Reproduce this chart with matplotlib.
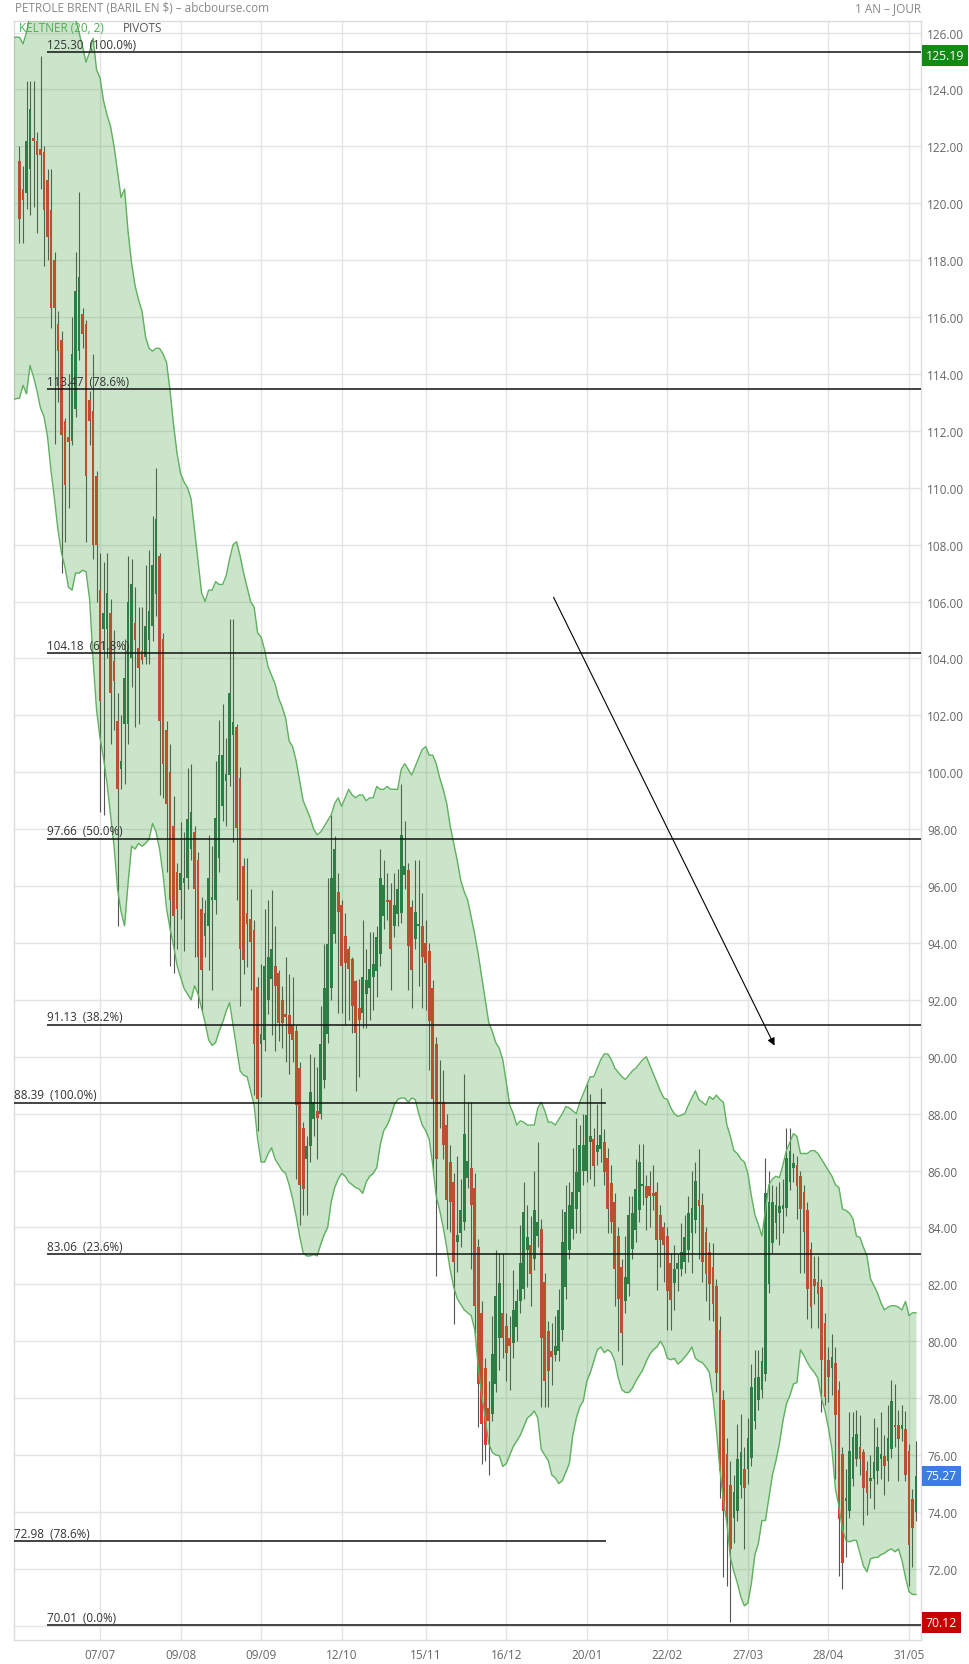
import numpy as np
import pandas as pd
import matplotlib
matplotlib.use('Agg')
import matplotlib.pyplot as plt

plt.rcParams['font.family'] = ['Open Sans', 'DejaVu Sans']

# ---------------- data ----------------
title = "PETROLE BRENT (BARIL EN $) \u2013 abcbourse.com"
period = "1 AN \u2013 JOUR"
holidays = ['2022-12-26', '2023-01-02', '2023-04-07']
tick_dates = ['2022-07-07', '2022-08-09', '2022-09-09', '2022-10-12', '2022-11-15',
              '2022-12-16', '2023-01-20', '2023-02-22', '2023-03-27', '2023-04-28',
              '2023-05-31']

opens = [
 121.5, 120.5, 120.35, 121.2, 122.3, 122.2, 121.9, 121.8, 120.8, 119.75,
 118.0, 115.75, 115.2, 112.35, 111.8, 111.65, 112.75, 114.8, 116.1, 115.75,
 113.1, 112.7, 110.4, 106.4, 105.05, 105.05, 105.6, 103.9, 101.8, 100.1,
 101.7, 101.7, 104.0, 105.25, 104.35, 104.25, 104.05, 104.65, 105.15, 106.25,
 107.6, 104.7, 101.5, 100.0, 98.1, 96.5, 95.85, 96.1, 96.3, 97.3,
 97.9, 96.9, 95.2, 94.25, 94.6, 95.5, 95.5, 97.0, 98.8, 99.7,
 99.9, 101.3, 101.6, 99.8, 96.7, 95.05, 94.85, 94.45, 92.45, 90.45,
 90.6, 92.0, 92.75, 93.2, 92.95, 92.0, 91.5, 91.45, 91.1, 90.9,
 89.6, 87.5, 86.4, 86.85, 87.8, 88.1, 88.0, 89.2, 90.8, 92.4,
 94.3, 95.8, 95.35, 94.25, 93.8, 93.45, 92.65, 91.7, 91.55, 92.2,
 92.4, 92.8, 93.0, 93.6, 94.95, 95.5, 95.5, 94.6, 95.0, 95.05,
 96.4, 96.55, 95.25, 94.15, 94.6, 94.6, 94.0, 93.7, 92.4, 90.45,
 88.4, 88.4, 87.6, 86.3, 85.6, 83.5, 83.8, 84.2, 85.75, 86.1,
 85.4, 83.3, 81.0, 79.05, 77.65, 77.45, 78.5, 80.1, 81.0, 80.55,
 80.1, 79.95, 80.5, 81.4, 81.85, 83.2, 83.4, 82.9, 83.7, 83.95,
 82.1, 80.35, 79.65, 79.5, 79.65, 80.4, 81.9, 83.2, 83.95, 84.65,
 85.25, 86.0, 86.0, 87.0, 87.1, 86.65, 86.75, 87.0, 86.45, 85.55,
 84.9, 83.7, 82.6, 81.4, 82.0, 83.25, 83.9, 84.6, 85.45, 85.45,
 85.45, 85.2, 85.25, 84.45, 84.0, 83.7, 82.75, 82.05, 82.55, 82.55,
 82.8, 83.2, 83.8, 84.25, 84.95, 84.8, 83.85, 83.15, 82.6, 81.95,
 80.4, 77.95, 76.05, 74.95, 73.8, 74.05, 74.95, 75.5, 75.5, 75.9,
 77.2, 77.95, 78.3, 78.85, 82.0, 83.45, 84.15, 84.5, 84.65, 84.7,
 85.6, 86.1, 86.2, 85.8, 85.25, 84.6, 83.25, 82.2, 82.1, 81.9,
 80.65, 79.35, 79.05, 79.25, 78.3, 76.05, 74.4, 74.05, 75.15, 75.85,
 76.3, 76.1, 75.45, 75.1, 75.15, 75.45, 75.85, 75.95, 75.8, 76.2,
 77.05, 77.05, 76.9, 76.9, 76.15, 74.45, 74.0]

highs = [
 122.0, 121.3, 124.3, 124.3, 124.3, 122.5, 125.19, 122.0, 121.2, 121.2,
 118.3, 116.2, 115.5, 112.45, 114.0, 116.0, 118.3, 120.4, 116.3, 115.9,
 113.4, 114.7, 110.6, 107.7, 107.4, 107.7, 106.1, 105.0, 102.8, 102.0,
 104.7, 107.6, 107.5, 106.5, 105.8, 105.8, 107.3, 107.8, 109.0, 110.7,
 107.7, 104.9, 101.8, 101.0, 99.15, 96.8, 98.25, 97.9, 100.15, 100.3,
 98.1, 97.2, 95.6, 95.5, 97.8, 97.4, 100.4, 101.85, 102.4, 101.2,
 105.4, 105.4, 101.7, 100.2, 97.0, 97.0, 95.9, 94.8, 92.8, 93.25,
 95.2, 95.5, 95.85, 94.6, 93.05, 92.5, 93.5, 92.9, 92.8, 91.1,
 89.8, 87.7, 87.2, 90.1, 90.0, 89.65, 91.8, 93.95, 96.3, 98.5,
 97.75, 96.45, 95.5, 95.05, 93.9, 93.5, 92.7, 92.75, 94.8, 93.8,
 94.4, 94.4, 94.6, 97.3, 96.9, 96.45, 96.1, 96.45, 96.6, 99.6,
 98.3, 96.8, 95.5, 96.9, 96.9, 95.75, 94.8, 94.0, 92.7, 90.7,
 89.9, 89.55, 88.0, 86.9, 85.9, 86.5, 85.7, 89.4, 88.4, 88.4,
 85.9, 83.6, 81.4, 79.4, 78.6, 80.9, 83.2, 83.1, 83.1, 81.0,
 80.9, 82.5, 81.85, 84.1, 85.6, 84.8, 84.4, 86.0, 87.0, 84.3,
 82.4, 80.7, 80.65, 80.9, 81.85, 84.65, 85.5, 85.6, 86.8, 87.85,
 87.6, 88.0, 89.1, 88.7, 87.5, 88.35, 88.9, 87.45, 86.8, 86.2,
 85.2, 84.0, 82.9, 83.7, 85.1, 85.1, 86.4, 86.95, 86.95, 85.85,
 86.0, 86.2, 85.6, 84.8, 84.2, 84.0, 83.1, 83.4, 83.05, 84.15,
 84.45, 85.1, 85.97, 86.3, 86.75, 85.2, 84.0, 83.5, 83.45, 82.2,
 80.9, 78.3, 76.6, 75.8, 75.3, 77.1, 77.45, 76.3, 77.3, 79.2,
 79.7, 79.7, 79.8, 86.45, 86.0, 85.5, 85.45, 85.6, 85.7, 87.5,
 87.5, 86.6, 86.5, 86.0, 85.5, 84.9, 83.5, 83.0, 83.0, 82.2,
 81.0, 79.8, 80.25, 79.8, 78.6, 76.3, 75.5, 77.5, 77.5, 77.6,
 77.4, 76.2, 75.8, 76.0, 77.3, 77.0, 77.5, 76.7, 77.75, 78.65,
 78.5, 77.6, 77.75, 77.55, 76.4, 74.8, 76.5]

lows = [
 118.6, 118.6, 119.8, 119.6, 119.85, 118.95, 120.5, 117.8, 118.0, 115.6,
 111.55, 113.0, 107.0, 108.1, 109.3, 111.5, 112.5, 114.5, 114.9, 108.1,
 111.5, 107.5, 106.0, 98.6, 98.5, 104.0, 101.0, 101.5, 94.6, 99.4,
 99.6, 101.0, 103.0, 101.6, 101.7, 103.8, 103.8, 103.8, 104.6, 105.5,
 99.2, 99.1, 96.5, 93.2, 92.95, 93.8, 94.85, 93.7, 95.9, 96.9,
 93.5, 91.7, 91.6, 93.5, 93.05, 92.35, 95.0, 96.5, 98.3, 98.1,
 99.5, 97.55, 95.5, 91.8, 92.9, 93.15, 92.35, 88.65, 87.4, 88.6,
 90.2, 91.5, 90.75, 90.2, 90.55, 90.3, 89.8, 89.4, 89.8, 85.7,
 84.1, 84.45, 84.45, 86.3, 87.2, 86.4, 87.8, 88.9, 90.5, 92.0,
 94.0, 91.55, 91.55, 91.1, 91.3, 90.85, 88.8, 89.3, 91.0, 91.0,
 91.3, 91.65, 92.1, 93.2, 94.5, 94.8, 92.35, 94.2, 94.6, 94.7,
 95.9, 92.35, 91.7, 93.8, 92.5, 91.7, 91.65, 89.55, 85.9, 82.3,
 87.5, 86.4, 83.95, 83.85, 80.6, 82.45, 83.3, 83.9, 85.4, 82.55,
 80.3, 77.0, 75.7, 75.8, 75.3, 77.2, 78.2, 79.0, 79.4, 78.6,
 78.3, 79.4, 80.0, 81.0, 81.5, 81.9, 81.25, 82.5, 83.3, 77.7,
 77.7, 77.7, 78.45, 79.3, 79.3, 80.0, 81.5, 82.9, 83.6, 83.8,
 83.8, 85.5, 85.6, 85.7, 85.45, 86.2, 86.3, 85.5, 83.8, 83.8,
 81.25, 79.65, 79.15, 81.0, 81.6, 82.9, 83.5, 84.2, 84.8, 83.9,
 84.0, 84.6, 81.8, 82.6, 82.1, 80.4, 80.4, 81.1, 81.75, 82.3,
 82.4, 82.8, 82.4, 83.8, 82.9, 82.1, 81.4, 80.75, 80.7, 78.2,
 74.5, 71.7, 71.4, 70.12, 72.9, 73.7, 74.5, 72.7, 75.0, 75.6,
 76.9, 77.6, 78.0, 78.6, 81.7, 83.1, 83.6, 83.4, 83.8, 84.4,
 85.3, 85.6, 84.3, 82.4, 82.4, 80.8, 80.45, 81.3, 80.45, 77.5,
 77.75, 77.85, 78.1, 75.15, 71.75, 71.3, 72.4, 73.8, 74.9, 75.6,
 75.3, 73.55, 73.9, 74.5, 74.1, 75.0, 75.15, 74.6, 75.1, 75.9,
 76.3, 75.1, 76.5, 75.1, 71.4, 72.05, 73.7]

closes = [
 119.45, 120.1, 122.2, 123.3, 122.2, 121.7, 121.7, 119.75, 118.8, 116.3,
 116.3, 114.8, 111.85, 110.1, 111.6, 114.7, 116.9, 117.4, 115.4, 110.4,
 112.35, 108.0, 108.0, 102.5, 105.6, 106.3, 102.8, 103.2, 99.4, 100.4,
 103.3, 106.0, 106.6, 104.65, 103.65, 103.95, 105.15, 105.65, 107.3, 108.9,
 101.8, 100.3, 98.9, 95.5, 94.95, 95.2, 96.45, 96.3, 98.35, 98.6,
 95.9, 93.5, 93.05, 95.05, 96.3, 95.6, 98.4, 100.6, 100.6, 99.95,
 102.8, 101.75, 98.05, 93.8, 93.4, 94.65, 94.05, 90.45, 88.5, 90.8,
 93.2, 93.5, 93.8, 92.5, 91.2, 91.2, 91.4, 90.8, 90.6, 88.3,
 85.5, 85.35, 86.85, 88.75, 88.4, 87.85, 90.45, 92.4, 93.95, 96.3,
 97.3, 95.1, 93.2, 93.3, 93.1, 91.8, 90.85, 91.3, 92.8, 92.7,
 93.1, 93.25, 94.2, 96.3, 96.05, 95.45, 93.8, 95.35, 95.9, 97.8,
 96.7, 93.9, 93.05, 95.1, 94.6, 93.5, 93.3, 91.25, 88.5, 86.4,
 88.35, 86.9, 84.95, 84.9, 82.8, 83.75, 84.6, 87.3, 86.35, 84.8,
 81.25, 78.5, 77.1, 76.35, 77.2, 79.55, 81.6, 82.05, 80.1, 79.6,
 79.85, 81.1, 81.4, 82.75, 84.55, 83.65, 82.35, 84.6, 84.2, 80.1,
 78.6, 78.95, 79.45, 79.85, 81.1, 83.5, 84.55, 84.8, 85.25, 85.95,
 86.9, 86.9, 87.95, 87.2, 86.15, 86.9, 87.25, 85.95, 84.65, 84.2,
 82.55, 81.5, 80.3, 82.25, 84.45, 84.5, 85.35, 86.3, 85.5, 85.05,
 85.1, 85.1, 83.55, 83.55, 83.4, 81.75, 81.45, 82.55, 82.75, 83.15,
 83.65, 84.5, 84.7, 85.65, 84.75, 82.8, 82.35, 82.0, 81.3, 78.9,
 75.45, 74.05, 73.75, 72.7, 74.7, 75.85, 76.1, 74.85, 76.6, 78.4,
 78.7, 78.75, 79.3, 85.2, 84.9, 84.9, 84.8, 84.75, 84.8, 86.45,
 86.7, 86.25, 85.45, 84.65, 83.85, 81.85, 81.2, 81.95, 81.65, 79.35,
 78.05, 78.75, 79.45, 77.4, 73.75, 72.2, 74.5, 76.15, 76.65, 76.75,
 75.85, 74.85, 74.65, 75.2, 75.75, 76.3, 76.05, 75.6, 76.6, 77.9,
 77.0, 76.55, 77.05, 75.3, 72.85, 73.45, 75.27]

# Keltner (20, 2) channel (starts two sessions before first candle)
keltner_upper = [
 125.8, 125.84,
 125.83, 125.6, 126.0, 126.6, 127.0, 127.2, 127.4, 127.5, 127.6, 127.6,
 127.5, 127.4, 127.3, 127.2, 127.0, 126.8, 126.5, 126.0, 125.5, 124.96,
 125.3, 125.8, 124.7, 124.4, 123.6, 123.1, 122.7, 122.0, 121.1, 120.2,
 120.5, 119.0, 117.9, 117.1, 116.6, 116.2, 115.3, 114.9, 114.8, 114.9,
 114.9, 114.7, 114.4, 113.4, 112.2, 111.2, 110.5, 110.2, 110.0, 109.6,
 108.5, 107.4, 106.3, 106.0, 106.4, 106.4, 106.7, 106.6, 106.6, 106.9,
 107.5, 108.0, 108.1, 107.6, 107.0, 106.5, 106.0, 105.8, 104.9, 104.75,
 104.3, 103.7, 103.4, 103.1, 102.6, 102.3, 101.9, 101.1, 100.9, 100.4,
 99.7, 99.0, 98.7, 98.4, 98.0, 97.8, 97.9, 98.1, 98.3, 98.5,
 98.9, 99.1, 98.8, 99.1, 99.4, 99.2, 99.1, 99.2, 99.2, 99.0,
 99.1, 99.1, 99.5, 99.4, 99.4, 99.5, 99.4, 99.4, 99.4, 100.1,
 100.3, 100.1, 99.9, 100.2, 100.5, 100.8, 100.9, 100.6, 100.6, 100.3,
 99.8, 99.4, 98.9, 98.1, 97.5, 96.9, 96.2, 95.8, 95.5, 94.9,
 94.3, 93.6, 92.8, 92.0, 91.2, 90.9, 90.5, 90.3, 89.9, 89.1,
 88.3, 88.0, 87.6, 87.75, 87.7, 87.6, 87.6, 87.6, 88.2, 88.4,
 88.1, 87.7, 87.7, 87.6, 87.8, 88.0, 88.25, 88.2, 88.1, 88.0,
 88.4, 88.7, 89.0, 89.3, 89.3, 89.6, 89.9, 90.1, 90.1, 89.9,
 89.6, 89.45, 89.3, 89.2, 89.35, 89.5, 89.6, 89.75, 89.9, 90.0,
 89.7, 89.4, 89.1, 88.8, 88.55, 88.5, 88.2, 88.0, 87.9, 87.95,
 88.0, 88.3, 88.55, 88.8, 88.5, 88.4, 88.3, 88.6, 88.5, 88.65,
 88.5, 88.4, 87.6, 87.2, 86.7, 86.6, 86.4, 86.3, 85.9, 85.1,
 84.45, 84.1, 83.7, 84.6, 85.5, 85.7, 85.8, 85.75, 86.2, 86.7,
 87.0, 87.3, 87.2, 86.6, 86.6, 86.6, 86.7, 86.7, 86.6, 86.4,
 86.2, 86.0, 85.8, 85.5, 85.4, 84.65, 84.6, 84.5, 84.3, 83.7,
 83.65, 83.3, 83.0, 82.2, 81.95, 81.7, 81.35, 81.1, 81.2, 81.25,
 81.25, 81.2, 81.1, 81.4, 80.9, 81.0, 81.0]

keltner_lower = [
 113.1, 113.13,
 113.15, 113.6, 113.3, 114.3, 113.9, 113.4, 112.8, 112.5, 111.8, 110.6,
 109.6, 108.5, 107.7, 107.2, 106.5, 106.4, 107.0, 107.0, 107.1, 107.05,
 106.1, 104.0, 102.2, 101.2, 100.5, 99.6, 98.5, 97.4, 95.9, 95.1,
 94.6, 96.1, 97.4, 97.3, 97.5, 97.4, 97.5, 97.65, 98.2, 97.9,
 97.3, 96.4, 95.2, 94.5, 93.9, 93.2, 92.8, 92.4, 92.2, 92.0,
 92.5, 92.2, 91.7, 91.2, 90.6, 90.4, 90.5, 90.9, 91.2, 91.6,
 91.9, 91.1, 90.3, 89.5, 89.35, 89.3, 88.8, 88.3, 87.1, 86.3,
 86.3, 86.6, 86.8, 86.4, 86.2, 86.0, 85.9, 85.5, 85.0, 84.4,
 83.7, 83.1, 83.0, 83.0, 83.05, 83.0, 83.4, 83.75, 84.0, 84.9,
 85.4, 85.7, 85.9, 85.8, 85.6, 85.5, 85.4, 85.35, 85.2, 85.6,
 85.8, 85.9, 86.1, 86.9, 87.4, 87.6, 87.9, 88.3, 88.5, 88.55,
 88.55, 88.4, 88.55, 88.5, 88.0, 87.6, 87.4, 87.1, 86.2, 85.1,
 84.6, 84.0, 83.3, 82.5, 81.9, 81.5, 81.3, 81.1, 81.0, 80.9,
 80.4, 79.1, 78.1, 77.3, 76.4, 76.1, 76.0, 75.98, 75.6, 75.7,
 76.0, 76.3, 76.5, 76.7, 77.0, 77.3, 77.4, 77.55, 77.3, 76.2,
 76.0, 75.8, 75.3, 75.2, 75.0, 75.1, 75.4, 75.7, 76.7, 77.3,
 77.7, 77.9, 78.6, 78.9, 79.3, 79.7, 79.8, 79.6, 79.7, 79.6,
 79.3, 78.7, 78.3, 78.2, 78.2, 78.35, 78.6, 78.8, 79.0, 79.3,
 79.55, 79.7, 79.8, 80.0, 79.8, 79.4, 79.35, 79.4, 79.2, 79.3,
 79.45, 79.6, 79.8, 79.4, 79.3, 79.25, 79.1, 78.9, 78.1, 76.9,
 75.5, 74.4, 73.6, 72.4, 71.9, 71.5, 71.0, 70.7, 70.8, 71.5,
 72.5, 72.9, 73.7, 73.7, 74.5, 75.3, 75.8, 76.4, 77.2, 77.8,
 78.1, 78.5, 78.55, 79.7, 79.5, 79.25, 79.05, 78.9, 78.7, 78.0,
 77.56, 76.95, 76.2, 74.8, 74.2, 73.4, 73.0, 72.95, 73.0, 73.0,
 72.55, 72.1, 71.9, 72.35, 72.4, 72.4, 72.5, 72.55, 72.65, 72.7,
 72.6, 72.7, 72.3, 71.7, 71.2, 71.1, 71.1]

fib_levels = [125.30, 113.47, 104.18, 97.66, 91.13, 83.06, 70.01]
fib_pcts = ['100.0%', '78.6%', '61.8%', '50.0%', '38.2%', '23.6%', '0.0%']
fib2_levels = [88.39, 72.98]
fib2_pcts = ['100.0%', '78.6%']

arrow_x = [152.5, 215.6]
arrow_y = [106.15, 90.39]

tags = [125.19, 75.27, 70.12]
tag_colors = ['#138a13', '#3b7de0', '#c40000']

# ---------------- build ----------------
dates = pd.bdate_range('2022-06-06', '2023-06-02')
dates = dates[~dates.isin(pd.to_datetime(holidays))]
N = len(closes)
x = np.arange(N)
o = np.array(opens); h = np.array(highs); l = np.array(lows); c = np.array(closes)
up = c >= o
band_x = np.arange(N - len(keltner_upper), N)

tick_pos = [int(np.where(dates == pd.Timestamp(d))[0][0]) for d in tick_dates]
tick_lab = [pd.Timestamp(d).strftime('%d/%m') for d in tick_dates]

W, H = 970, 1665
fig = plt.figure(figsize=(W / 100, H / 100), dpi=100)
L_, R_, T_, B_ = 14, 921, 21.7, 1641
ax = fig.add_axes([L_ / W, 1 - B_ / H, (R_ - L_) / W, (B_ - T_) / H])

ax.set_xlim(-1.57, 257.43)
ax.set_ylim(69.50, 126.415)

grid_c = '#e4e4e4'
yt = np.arange(70, 127, 2)
ax.set_yticks(yt)
# the 70.00 label sits under the red "last low" tag, as in the original
ax.set_yticklabels(['' if v == 70 else f'{v:.2f}' for v in yt])
ax.yaxis.tick_right()
ax.set_xticks(tick_pos)
ax.set_xticklabels(tick_lab)
ax.grid(True, color=grid_c, lw=1.0)
ax.set_axisbelow(True)
ax.tick_params(axis='y', length=0, pad=4.5, labelsize=8.5, labelcolor='#666666')
ax.tick_params(axis='x', length=0, pad=5.5, labelsize=8.5, labelcolor='#666666')
for s in ax.spines.values():
    s.set_color('#dcdcdc')
    s.set_linewidth(1.0)

# candles (under the translucent channel fill)
ax.vlines(x, l, h, color='#555555', lw=0.8, zorder=2)
body_h = np.maximum(np.abs(c - o), 0.06)
ax.bar(x[up], body_h[up], bottom=np.minimum(o, c)[up], width=0.78,
       color='#2c744c', lw=0, zorder=2.5)
ax.bar(x[~up], body_h[~up], bottom=np.minimum(o, c)[~up], width=0.78,
       color='#e63832', lw=0, zorder=2.5)

# Keltner channel
ax.fill_between(band_x, keltner_lower, keltner_upper, color='#339933', alpha=0.25,
                lw=0, zorder=3)
ax.plot(band_x, keltner_upper, color='#5fb05f', lw=1.0, zorder=3.2)
ax.plot(band_x, keltner_lower, color='#5fb05f', lw=1.0, zorder=3.2)

# Fibonacci retracements
fib_start = 7.85
fib2_end = 167.5
for lvl, pct in zip(fib_levels, fib_pcts):
    ax.hlines(lvl, fib_start, 257.43, color='#111111', lw=1.1, zorder=4)
    ax.annotate(f'{lvl:.2f}  ({pct})', xy=(fib_start, lvl), xytext=(0, 1),
                textcoords='offset points', ha='left', va='bottom',
                fontsize=8.4, color='#333333', zorder=5)
for lvl, pct in zip(fib2_levels, fib2_pcts):
    ax.hlines(lvl, -1.57, fib2_end, color='#111111', lw=1.1, zorder=4)
    ax.annotate(f'{lvl:.2f}  ({pct})', xy=(-1.57, lvl), xytext=(0, 1),
                textcoords='offset points', ha='left', va='bottom',
                fontsize=8.4, color='#333333', zorder=5)

# trend arrow
ax.annotate('', xy=(arrow_x[1], arrow_y[1]), xytext=(arrow_x[0], arrow_y[0]),
            arrowprops=dict(arrowstyle='-|>', color='black', lw=0.8,
                            mutation_scale=11, shrinkA=0, shrinkB=0), zorder=6)

# price tags
for val, col in zip(tags, tag_colors):
    ax.text(1.0052, val, f'{val:.2f}', transform=ax.get_yaxis_transform(),
            ha='left', va='center', color='white', fontsize=8.8,
            bbox=dict(boxstyle='square,pad=0.3', fc=col, ec='none'),
            clip_on=False, zorder=10)

# legend texts
ax.text(0.0055, 0.9955, 'KELTNER (20, 2)', transform=ax.transAxes, ha='left',
        va='center', fontsize=8.5, color='#4caf50', zorder=7)
ax.text(0.12, 0.9955, 'PIVOTS', transform=ax.transAxes, ha='left',
        va='center', fontsize=8.5, color='#555555', zorder=7)

fig.text(14.7 / W, 1 - 9 / H, title, ha='left', va='center', fontsize=8.5,
         color='#888888')
fig.text(R_ / W, 1 - 9 / H, period, ha='right', va='center', fontsize=8.5,
         color='#888888')

fig.savefig('out.png', dpi=100)
